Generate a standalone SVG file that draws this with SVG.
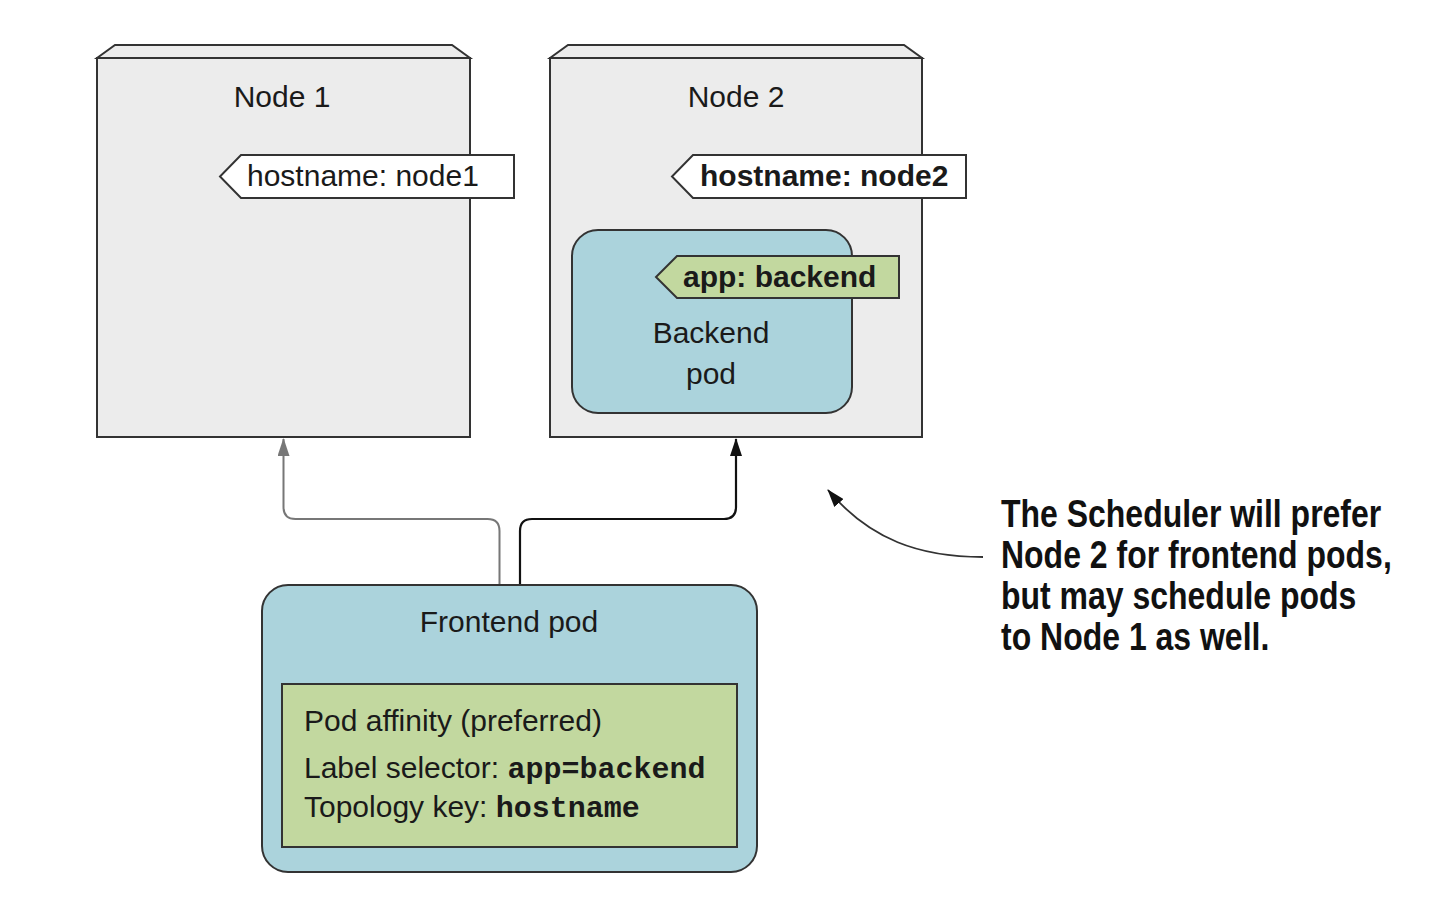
<svg xmlns="http://www.w3.org/2000/svg" width="1454" height="900" viewBox="0 0 1454 900">
<style>
  .node { fill: #ececec; stroke: #333; stroke-width: 2; }
  .pod { fill: #abd3dc; stroke: #333; stroke-width: 2; }
  .green { fill: #c2d89f; stroke: #333; stroke-width: 2; }
  .tag { fill: #ffffff; stroke: #333; stroke-width: 2; }
  .t { font-family: "Liberation Sans", Arial, sans-serif; font-size: 30px; fill: #1a1a1a; }
  .b { font-weight: bold; }
  .mono { font-family: "Liberation Mono", "Courier New", monospace; font-weight: bold; font-size: 30px; }
  .ann { font-family: "Liberation Sans", Arial, sans-serif; font-weight: bold; font-size: 39px; fill: #111; }
</style>
<defs>
  <marker id="ag" viewBox="0 0 18 12" refX="17" refY="6" markerWidth="18" markerHeight="12" markerUnits="userSpaceOnUse" orient="auto">
    <path d="M0,0 L18,6 L0,12 Z" fill="#777"/>
  </marker>
  <marker id="ab" viewBox="0 0 18 12" refX="17" refY="6" markerWidth="18" markerHeight="12" markerUnits="userSpaceOnUse" orient="auto">
    <path d="M0,0 L18,6 L0,12 Z" fill="#111"/>
  </marker>
  <marker id="ac" viewBox="0 0 18 12" refX="17" refY="6" markerWidth="18" markerHeight="12" markerUnits="userSpaceOnUse" orient="auto">
    <path d="M0,0 L18,6 L0,12 Z" fill="#111"/>
  </marker>
</defs>

<g id="node1">
  <path class="node" d="M97,58 L115,45 L452,45 L470,58 Z"/>
  <rect class="node" x="97" y="58" width="373" height="379"/>
  <text class="t" x="282" y="107" text-anchor="middle">Node 1</text>
  <g id="label-node1">
    <path class="tag" d="M241,155 L514,155 L514,198 L241,198 L220,176.5 Z"/>
    <text class="t" x="247" y="186">hostname: node1</text>
  </g>
</g>

<g id="node2">
  <path class="node" d="M550,58 L568,45 L904,45 L922,58 Z"/>
  <rect class="node" x="550" y="58" width="372" height="379"/>
  <text class="t" x="736" y="107" text-anchor="middle">Node 2</text>
  <g id="label-node2">
    <path class="tag" d="M693,155 L966,155 L966,198 L693,198 L672,176.5 Z"/>
    <text class="t b" x="700" y="186">hostname: node2</text>
  </g>
</g>

<g id="backend-pod">
  <rect class="pod" x="572" y="230" width="280" height="183" rx="26" ry="26"/>
  <path class="green" d="M677,256 L899,256 L899,298 L677,298 L656,277 Z"/>
  <text class="t b" x="683" y="287">app: backend</text>
  <text class="t" x="711" y="343" text-anchor="middle">Backend</text>
  <text class="t" x="711" y="384" text-anchor="middle">pod</text>
</g>

<g id="connectors" fill="none">
  <path d="M499.5,585 L499.5,531 Q499.5,519 487.5,519 L295.5,519 Q283.5,519 283.5,507 L283.5,439" stroke="#777" stroke-width="2" marker-end="url(#ag)"/>
  <path d="M520,585 L520,531 Q520,519 532,519 L724,519 Q736,519 736,507 L736,439" stroke="#111" stroke-width="2.2" marker-end="url(#ab)"/>
  <path d="M983,557 C920,557 870,540 828,490" stroke="#333" stroke-width="1.8" marker-end="url(#ac)"/>
</g>

<g id="frontend-pod">
  <rect class="pod" x="262" y="585" width="495" height="287" rx="26" ry="26"/>
  <text class="t" x="509" y="632" text-anchor="middle">Frontend pod</text>
  <rect class="green" x="282" y="684" width="455" height="163"/>
  <text class="t" x="304" y="731">Pod affinity (preferred)</text>
  <text class="t" x="304" y="778">Label selector: <tspan class="mono">app=backend</tspan></text>
  <text class="t" x="304" y="817">Topology key: <tspan class="mono">hostname</tspan></text>
</g>

<g id="annotation" transform="translate(1001,0) scale(0.82,1)">
  <text class="ann" x="0" y="527">The Scheduler will prefer</text>
  <text class="ann" x="0" y="568">Node 2 for frontend pods,</text>
  <text class="ann" x="0" y="609">but may schedule pods</text>
  <text class="ann" x="0" y="650">to Node 1 as well.</text>
</g>
</svg>
